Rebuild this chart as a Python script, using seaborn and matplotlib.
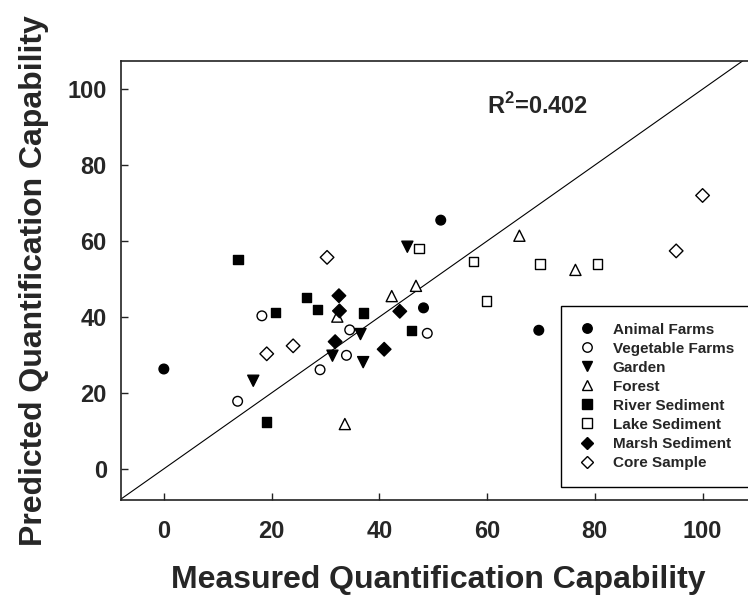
import numpy as np
import pandas as pd
import matplotlib
matplotlib.use("Agg")
import matplotlib.pyplot as plt
from matplotlib.lines import Line2D
import seaborn as sns

# ---------------- data ----------------
groups = ["Animal Farms", "Vegetable Farms", "Garden", "Forest",
          "River Sediment", "Lake Sediment", "Marsh Sediment", "Core Sample"]

animal_x = [0.0, 51.4, 48.2, 69.6]
animal_y = [26.3, 65.5, 42.4, 36.5]
vegetable_x = [18.2, 13.7, 29.0, 34.5, 48.9, 33.9]
vegetable_y = [40.3, 17.8, 26.1, 36.6, 35.7, 29.9]
garden_x = [16.6, 31.3, 45.2, 36.5, 37.0]
garden_y = [23.2, 29.8, 58.5, 35.5, 28.1]
forest_x = [46.8, 42.3, 32.2, 33.6, 66.0, 76.4]
forest_y = [48.2, 45.5, 40.1, 11.8, 61.4, 52.4]
river_x = [13.8, 26.5, 28.5, 20.7, 19.1, 37.1, 46.0]
river_y = [55.2, 45.1, 42.0, 41.2, 12.3, 41.1, 36.5]
lake_x = [47.4, 57.5, 59.9, 69.8, 80.5]
lake_y = [58.0, 54.6, 44.2, 54.0, 54.0]
marsh_x = [31.8, 32.5, 32.6, 43.8, 40.9]
marsh_y = [33.5, 45.6, 41.6, 41.5, 31.5]
core_x = [30.3, 24.0, 19.1, 100.0, 95.1]
core_y = [55.7, 32.4, 30.3, 72.0, 57.4]

r2_text = "0.402"
xticks = [0, 20, 40, 60, 80, 100]
yticks = [0, 20, 40, 60, 80, 100]

series_x = [animal_x, vegetable_x, garden_x, forest_x, river_x, lake_x, marsh_x, core_x]
series_y = [animal_y, vegetable_y, garden_y, forest_y, river_y, lake_y, marsh_y, core_y]

rows = []
for g, xs, ys in zip(groups, series_x, series_y):
    for xv, yv in zip(xs, ys):
        rows.append({"group": g, "measured": xv, "predicted": yv})
df = pd.DataFrame(rows)

# ---------------- styles ----------------
faces = {"Animal Farms": "black", "Vegetable Farms": "white", "Garden": "black",
         "Forest": "white", "River Sediment": "black", "Lake Sediment": "white",
         "Marsh Sediment": "black", "Core Sample": "white"}
markers = {"Animal Farms": "o", "Vegetable Farms": "o", "Garden": "v",
           "Forest": "^", "River Sediment": "s", "Lake Sediment": "s",
           "Marsh Sediment": "D", "Core Sample": "D"}
sizes = {"Animal Farms": 48, "Vegetable Farms": 48, "Garden": 64,
         "Forest": 64, "River Sediment": 46, "Lake Sediment": 46,
         "Marsh Sediment": 48, "Core Sample": 48}

sns.set_style("ticks")
plt.rcParams["font.family"] = ["Liberation Sans", "DejaVu Sans"]
plt.rcParams["font.weight"] = "bold"
plt.rcParams["mathtext.fontset"] = "custom"
plt.rcParams["mathtext.bf"] = "Liberation Sans:bold"
plt.rcParams["mathtext.rm"] = "Liberation Sans:bold"

fig = plt.figure(figsize=(7.48, 5.99), dpi=100)
ax = fig.add_axes([0.1614, 0.1653, 0.8499, 0.7334])

sns.scatterplot(data=df, x="measured", y="predicted", hue="group", style="group",
                size="group", palette=faces, markers=markers, sizes=sizes,
                edgecolor="black", linewidth=1.0, legend=False, ax=ax, zorder=3)

ax.axline((0, 0), slope=1, color="black", linewidth=0.8, zorder=2)

ax.set_xlim(-8, 110)
ax.set_ylim(-8.2, 107.5)
ax.set_xticks(xticks)
ax.set_yticks(yticks)
ax.tick_params(axis="both", direction="in", length=5, width=1.0, labelsize=17,
               color="#222222")
ax.tick_params(axis="x", pad=14.5)
ax.tick_params(axis="y", pad=10)
for lab in ax.get_xticklabels() + ax.get_yticklabels():
    lab.set_fontweight("bold")

for side in ["left", "bottom", "top"]:
    ax.spines[side].set_color("#222222")
    ax.spines[side].set_linewidth(1.2)
ax.spines["right"].set_visible(False)

ax.set_xlabel("Measured Quantification Capability", fontsize=23, fontweight="bold",
              labelpad=16)
ax.set_ylabel("Predicted Quantification Capability", fontsize=23, fontweight="bold",
              labelpad=13)

ax.text(60, 93.6, r"R$^{\mathbf{2}}$=" + r2_text, fontsize=17, fontweight="bold",
        ha="left", va="baseline")

handles = [Line2D([], [], marker=markers[g], linestyle="none",
                  markerfacecolor=faces[g], markeredgecolor="black",
                  markeredgewidth=1.0,
                  markersize=(7.6 if markers[g] in ("v", "^") else (6.6 if markers[g] == "D" else 6.8)))
           for g in groups]
leg = ax.legend(handles, groups, loc="upper left", bbox_to_anchor=(0.692, 0.442),
                borderaxespad=0, frameon=True, fancybox=False, framealpha=1,
                edgecolor="black", prop={"weight": "bold", "size": 11},
                labelspacing=0.33, borderpad=1.1, handlelength=1.2,
                handletextpad=1.1)
leg.get_frame().set_linewidth(1.0)

fig.savefig("out.png", dpi=100)
